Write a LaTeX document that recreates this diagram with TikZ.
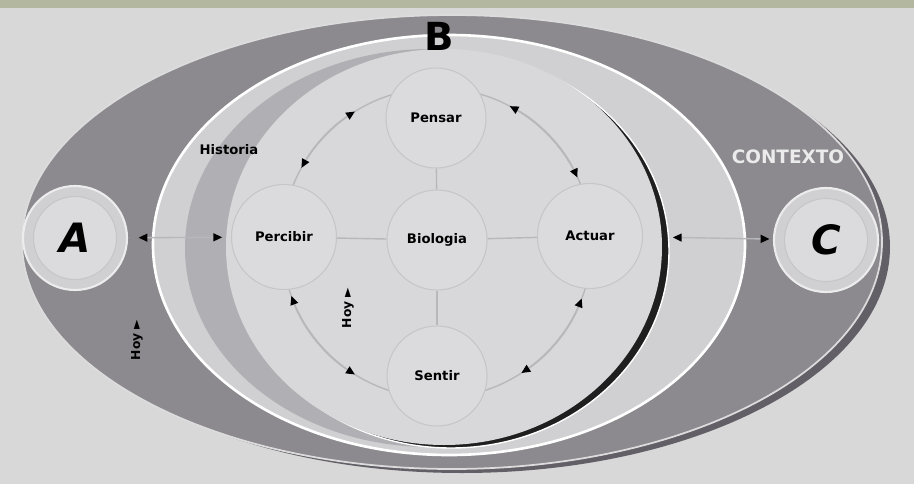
\documentclass[tikz,border=0pt]{standalone}
\usepackage{fontspec}
\setmainfont{DejaVu Sans}
\usetikzlibrary{arrows.meta}
\definecolor{bgc}{HTML}{D8D8D9}
\definecolor{topc}{HTML}{B4B79F}
\definecolor{ringc}{HTML}{8C8A8F}
\definecolor{shadec}{HTML}{625F66}
\definecolor{lightc}{HTML}{D0D0D2}
\definecolor{bandc}{HTML}{B0AFB3}
\definecolor{corec}{HTML}{D8D8DA}
\definecolor{nodec}{HTML}{DBDBDD}
\definecolor{rimc}{HTML}{C6C6C8}
\definecolor{linec}{HTML}{B8B8BB}
\tikzset{
  stage/.style={circle, draw=rimc, line width=0.6pt, fill=nodec, minimum size=2cm, inner sep=0pt, font=\fontsize{7.5}{9}\selectfont\bfseries},
  pole/.style={circle, draw=white!60!lightc, line width=1.2pt, fill=lightc, minimum size=2.08cm, inner sep=0pt},
  poleface/.style={circle, draw=rimc, line width=0.6pt, fill=nodec, minimum size=1.66cm, inner sep=0pt, font=\fontsize{23}{23}\selectfont\bfseries\itshape},
  spoke/.style={draw=linec, line width=0.8pt},
  cyc/.style={{Triangle[black, length=5pt, width=4.5pt]}-{Triangle[black, length=5pt, width=4.5pt]}, draw=linec, line width=0.8pt},
  tag/.style={font=\fontsize{7.5}{9}\selectfont\bfseries, inner sep=1pt},
}
\begin{document}
\begin{tikzpicture}[x=0.02cm, y=0.02cm]
	\useasboundingbox (0,0) rectangle (914,-484);
	\fill[bgc] (0,0) rectangle (914,-484);
	\fill[topc] (0,0) rectangle (914,-8);

	% outer ring with its shadow
	\fill[shadec] (462,-247) ellipse [x radius=428, y radius=226];
	\filldraw[fill=ringc, draw=white!70!ringc, line width=1pt] (452,-242) ellipse [x radius=430, y radius=227];

	% light ellipse, crescent and core
	\filldraw[fill=lightc, draw=white, line width=1.5pt] (449,-245) ellipse [x radius=296, y radius=210];
	\begin{scope}
		\clip (150,0) rectangle (446,-484);
		\fill[bandc] (430,-248) ellipse [x radius=245, y radius=199];
	\end{scope}
	\filldraw[fill=black!88, draw=white, line width=0.8pt] (451,-251) ellipse [x radius=218, y radius=197];
	\fill[corec] (444,-247) ellipse [x radius=218, y radius=198];

	\draw[spoke] (437,-243) circle [radius=155];

	\node[stage] (Pensar) at (436,-118) {Pensar};
	\node[stage, minimum size=2.1cm] (Percibir) at (284,-237) {Percibir};
	\node[stage] (Bio) at (437,-240) {Biologia};
	\node[stage, minimum size=2.1cm] (Actuar) at (590,-236) {Actuar};
	\node[stage] (Sentir) at (437,-376) {Sentir};

	\draw[spoke] (Bio) -- (Pensar);
	\draw[spoke] (Bio) -- (Percibir);
	\draw[spoke] (Bio) -- (Actuar);
	\draw[spoke] (Bio) -- (Sentir);

	% cycle arcs
	\draw[cyc] (437,-243) ++(122:155) arc [start angle=122, end angle=151, radius=155];
	\draw[cyc] (437,-243) ++(25:155) arc [start angle=25, end angle=62, radius=155];
	\draw[cyc] (437,-243) ++(-57:155) arc [start angle=-57, end angle=-21, radius=155];
	\draw[cyc] (437,-243) ++(200:155) arc [start angle=200, end angle=238, radius=155];

	% A and C
	\node[pole] (A) at (75,-238) {};
	\node[poleface] (Ain) at (A) {A};
	\node[pole] (C) at (826,-240) {};
	\node[poleface] (Cin) at (C) {C};

	\draw[spoke, {Triangle[black, length=5pt, width=4.5pt]}-{Triangle[black, length=5pt, width=4.5pt]}, shorten <=6pt, shorten >=5pt] (A) -- (Percibir);
	\draw[spoke, {Triangle[black, length=5pt, width=4.5pt]}-{Triangle[black, length=5pt, width=4.5pt]}, shorten <=17pt, shorten >=2pt] (Actuar) -- (C);

	% labels
	\node[font=\fontsize{22}{22}\selectfont\bfseries, inner sep=1pt] (B) at (439,-36) {B};
	\node[tag] (Historia) at (229,-150) {Historia};
	\node[font=\fontsize{10.5}{12}\selectfont\bfseries, text=white!92!black] (Contexto) at (788,-157) {CONTEXTO};
	\node[tag, rotate=90, font=\fontsize{7}{8}\selectfont\bfseries] (HoyA) at (137,-340) {Hoy ►};
	\node[tag, rotate=90, font=\fontsize{7}{8}\selectfont\bfseries] (HoyB) at (348,-308) {Hoy ►};
\end{tikzpicture}
\end{document}
